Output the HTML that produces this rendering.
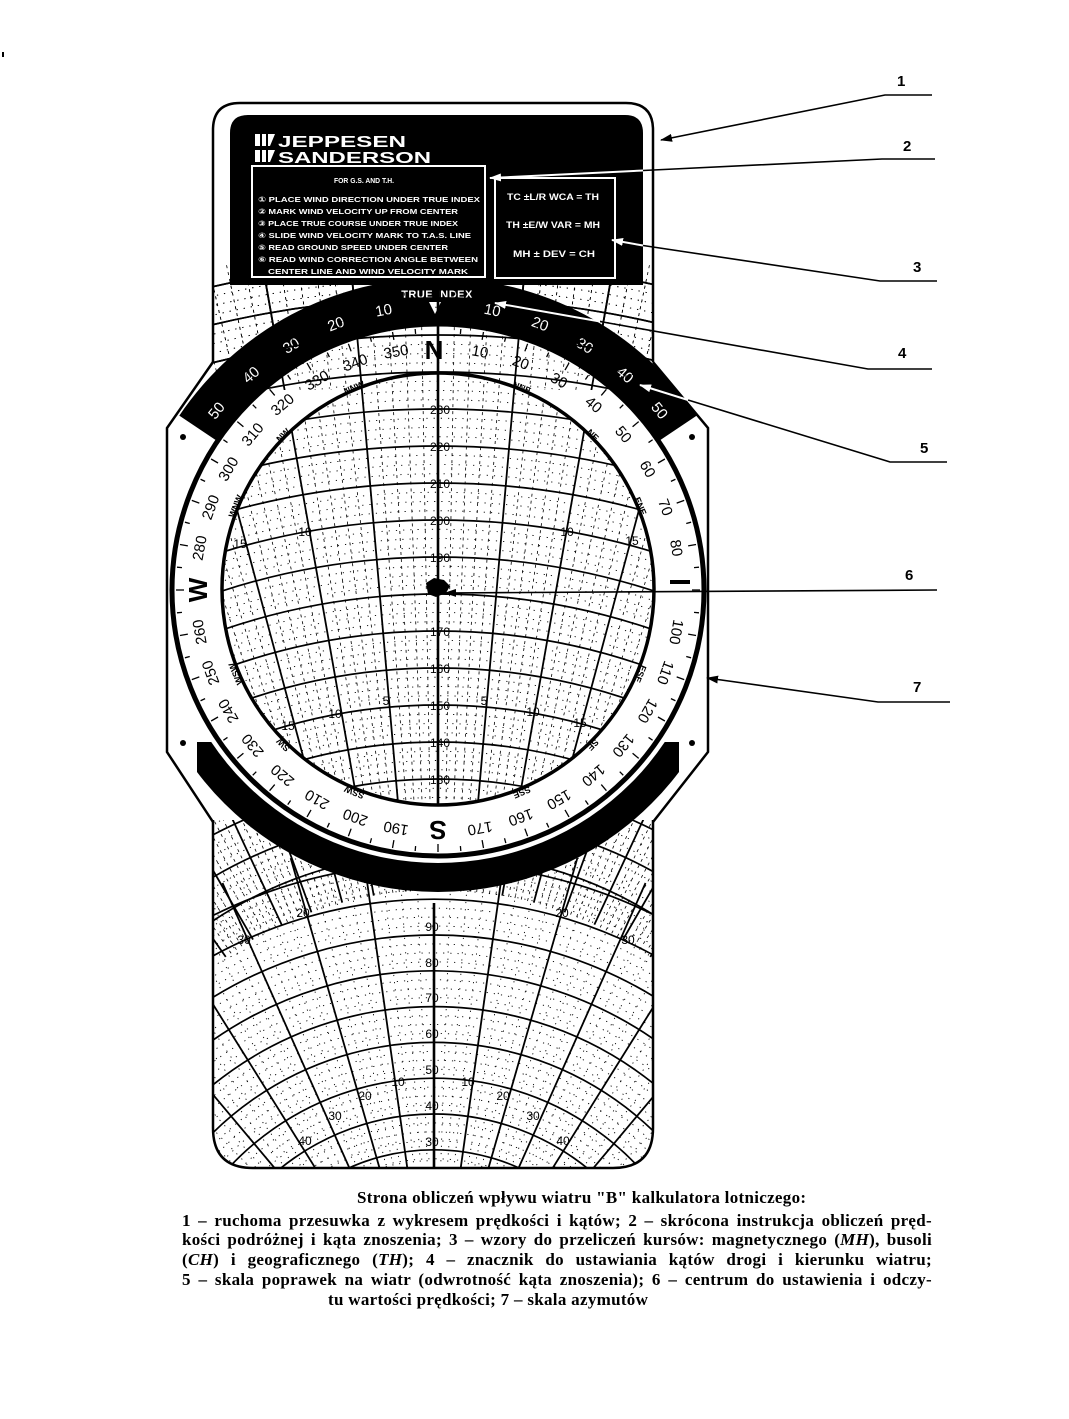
<!DOCTYPE html>
<html><head><meta charset="utf-8">
<style>
html,body{margin:0;padding:0;background:#fff;}
#wrap{position:relative;width:1069px;height:1419px;overflow:hidden;background:#fff;}
svg{position:absolute;left:0;top:0;}
.cap{position:absolute;left:182px;width:750px;font-family:"Liberation Serif",serif;font-weight:bold;font-size:17px;letter-spacing:0.3px;line-height:19px;color:#000;white-space:nowrap;}
.j{text-align:justify;text-align-last:justify;white-space:normal;}
</style></head><body><div id="wrap">
<svg id="s" width="1069" height="1419" viewBox="0 0 1069 1419" xmlns="http://www.w3.org/2000/svg" font-family="Liberation Sans, DejaVu Sans, sans-serif">
<defs>
<clipPath id="slideClip"><path d="M213,820 V130 Q213,103 240,103 H626 Q653,103 653,130 V1128 Q653,1168 613,1168 H253 Q213,1168 213,1128 Z"/></clipPath>
<clipPath id="lowRect"><rect x="200" y="820" width="470" height="360"/></clipPath>
<clipPath id="upClip"><circle cx="438" cy="589" r="216"/><rect x="213" y="280" width="440" height="110"/></clipPath>
<clipPath id="botBand"><rect x="197" y="742" width="482" height="170"/></clipPath>
<marker id="ab" markerUnits="userSpaceOnUse" markerWidth="12" markerHeight="8" refX="11" refY="4" orient="auto"><path d="M0,0 L12,4 L0,8 Z" fill="#000"/></marker>
<marker id="aw" markerUnits="userSpaceOnUse" markerWidth="12" markerHeight="8" refX="11" refY="4" orient="auto"><path d="M0,0 L12,4 L0,8 Z" fill="#fff"/></marker>
</defs>
<rect x="2" y="52" width="2" height="5" fill="#000"/>
<path d="M213,820 V130 Q213,103 240,103 H626 Q653,103 653,130 V1128 Q653,1168 613,1168 H253 Q213,1168 213,1128 Z" fill="#fff" stroke="#000" stroke-width="2.5"/>
<g clip-path="url(#slideClip)"><g id="upStrip"></g></g>
<g clip-path="url(#lowRect)"><g clip-path="url(#slideClip)"><g id="lowGrid"></g>
<g font-size="12" text-anchor="middle" fill="#000">
<text x="432" y="931">90</text><text x="432" y="967">80</text><text x="432" y="1002">70</text><text x="432" y="1038">60</text><text x="432" y="1074">50</text><text x="432" y="1110">40</text><text x="432" y="1146">30</text>
<text x="303" y="917">20</text><text x="562" y="917">20</text><text x="244" y="944">30</text><text x="628" y="944">30</text>
<text x="398" y="1086">10</text><text x="468" y="1086">10</text><text x="365" y="1100">20</text><text x="503" y="1100">20</text><text x="335" y="1120">30</text><text x="533" y="1120">30</text><text x="305" y="1145">40</text><text x="563" y="1145">40</text>
</g></g></g>
<path d="M230,285 V133 Q230,115 248,115 H625 Q643,115 643,133 V285 Z" fill="#000"/>
<g fill="#fff"><rect x="255" y="134" width="5" height="12"/><rect x="262" y="134" width="4" height="12"/><path d="M268,134 h7 l-5,12 h-2 Z"/><rect x="255" y="150" width="5" height="12"/><rect x="262" y="150" width="4" height="12"/><path d="M268,150 h7 l-5,12 h-2 Z"/></g>
<text x="278" y="147" fill="#fff" font-weight="bold" font-size="16" textLength="128" lengthAdjust="spacingAndGlyphs">JEPPESEN</text>
<text x="278" y="163" fill="#fff" font-weight="bold" font-size="16" textLength="153" lengthAdjust="spacingAndGlyphs">SANDERSON</text>
<rect x="252" y="166" width="233" height="111" fill="none" stroke="#fff" stroke-width="2"/>
<rect x="495" y="178" width="120" height="100" fill="none" stroke="#fff" stroke-width="2"/>
<g fill="#fff" font-weight="bold" font-size="7.5" font-family="Liberation Sans, DejaVu Sans, sans-serif">
<text x="334" y="183" textLength="60" lengthAdjust="spacingAndGlyphs">FOR G.S. AND T.H.</text>
<text x="258" y="202" textLength="222" lengthAdjust="spacingAndGlyphs">① PLACE WIND DIRECTION UNDER TRUE INDEX</text>
<text x="258" y="214" textLength="200" lengthAdjust="spacingAndGlyphs">② MARK WIND VELOCITY UP FROM CENTER</text>
<text x="258" y="226" textLength="200" lengthAdjust="spacingAndGlyphs">③ PLACE TRUE COURSE UNDER TRUE INDEX</text>
<text x="258" y="238" textLength="213" lengthAdjust="spacingAndGlyphs">④ SLIDE WIND VELOCITY MARK TO T.A.S. LINE</text>
<text x="258" y="250" textLength="190" lengthAdjust="spacingAndGlyphs">⑤ READ GROUND SPEED UNDER CENTER</text>
<text x="258" y="262" textLength="220" lengthAdjust="spacingAndGlyphs">⑥ READ WIND CORRECTION ANGLE BETWEEN</text>
<text x="268" y="274" textLength="200" lengthAdjust="spacingAndGlyphs">CENTER LINE AND WIND VELOCITY MARK</text>
<text x="507" y="200" font-size="9" textLength="92" lengthAdjust="spacingAndGlyphs">TC ±L/R WCA = TH</text>
<text x="506" y="228" font-size="9" textLength="94" lengthAdjust="spacingAndGlyphs">TH ±E/W VAR = MH</text>
<text x="513" y="257" font-size="9" textLength="82" lengthAdjust="spacingAndGlyphs">MH ± DEV = CH</text>
</g>
<polygon points="213,362 167,428 167,752 213,820 663,820 708,752 708,428 663,362" fill="#fff"/>
<polyline points="213,362 167,428 167,752 213,822" fill="none" stroke="#000" stroke-width="2.5"/>
<polyline points="653,362 708,428 708,752 653,822" fill="none" stroke="#000" stroke-width="2.5"/>
<g fill="#000"><circle cx="183" cy="437" r="3"/><circle cx="183" cy="743" r="3"/><circle cx="692" cy="437" r="3"/><circle cx="692" cy="743" r="3"/></g>
<path d="M179.3,415.6 A312,312 0 0,1 696.7,415.6 L658.5,441.3 A266,266 0 0,0 217.5,441.3 Z" fill="#000"/>
<g clip-path="url(#botBand)"><circle cx="438" cy="590" r="302" fill="#000"/><circle cx="438" cy="590" r="273" fill="#fff"/></g>
<g fill="#fff" font-size="15" text-anchor="middle">
<text x="438" y="310" transform="rotate(-11 438 590)">10</text><text x="438" y="310" transform="rotate(-21 438 590)">20</text><text x="438" y="310" transform="rotate(-31 438 590)">30</text><text x="438" y="310" transform="rotate(-41 438 590)">40</text><text x="438" y="310" transform="rotate(-51 438 590)">50</text>
<text x="438" y="310" transform="rotate(11 438 590)">10</text><text x="438" y="310" transform="rotate(21 438 590)">20</text><text x="438" y="310" transform="rotate(31 438 590)">30</text><text x="438" y="310" transform="rotate(41 438 590)">40</text><text x="438" y="310" transform="rotate(51 438 590)">50</text>
<text x="437" y="298" font-size="11" font-weight="bold" letter-spacing="0.5">TRUE INDEX</text>
</g>
<polygon points="429,302 441,302 435,314" fill="#fff"/>
<circle cx="438" cy="590" r="266" fill="#fff" stroke="#000" stroke-width="5"/>
<g id="ticks"></g>
<g clip-path="url(#upClip)"><g id="upGrid"></g></g>
<circle cx="438" cy="589" r="216" fill="none" stroke="#000" stroke-width="3.5"/>
<g font-size="12" text-anchor="middle" fill="#000">
<text x="440" y="414">230</text><text x="440" y="451">220</text><text x="440" y="488">210</text><text x="440" y="525">200</text><text x="440" y="562">190</text><text x="440" y="636">170</text><text x="440" y="673">160</text><text x="440" y="710">150</text><text x="440" y="747">140</text><text x="440" y="784">130</text>
<text x="305" y="536">10</text><text x="567" y="536">10</text><text x="240" y="548">15</text><text x="632" y="545">15</text>
<text x="335" y="718">10</text><text x="533" y="716">10</text><text x="288" y="730">15</text><text x="580" y="727">15</text>
<text x="386" y="705">5</text><text x="484" y="705">5</text>
</g>
<path d="M426,583 l8,-5 l10,2 l6,6 l-4,7 l-10,4 l-8,-3 Z" fill="#000"/>
<g font-size="15" text-anchor="middle" fill="#000">
<text x="438" y="353" transform="rotate(10 438 590)">10</text><text x="438" y="353" transform="rotate(20 438 590)">20</text><text x="438" y="353" transform="rotate(30 438 590)">30</text><text x="438" y="353" transform="rotate(40 438 590)">40</text><text x="438" y="353" transform="rotate(50 438 590)">50</text><text x="438" y="353" transform="rotate(60 438 590)">60</text><text x="438" y="353" transform="rotate(70 438 590)">70</text><text x="438" y="353" transform="rotate(80 438 590)">80</text>
<text x="438" y="353" transform="rotate(100 438 590)">100</text><text x="438" y="353" transform="rotate(110 438 590)">110</text><text x="438" y="353" transform="rotate(120 438 590)">120</text><text x="438" y="353" transform="rotate(130 438 590)">130</text><text x="438" y="353" transform="rotate(140 438 590)">140</text><text x="438" y="353" transform="rotate(150 438 590)">150</text><text x="438" y="353" transform="rotate(160 438 590)">160</text><text x="438" y="353" transform="rotate(170 438 590)">170</text>
<text x="438" y="353" transform="rotate(190 438 590)">190</text><text x="438" y="353" transform="rotate(200 438 590)">200</text><text x="438" y="353" transform="rotate(210 438 590)">210</text><text x="438" y="353" transform="rotate(220 438 590)">220</text><text x="438" y="353" transform="rotate(230 438 590)">230</text><text x="438" y="353" transform="rotate(240 438 590)">240</text><text x="438" y="353" transform="rotate(250 438 590)">250</text><text x="438" y="353" transform="rotate(260 438 590)">260</text>
<text x="438" y="353" transform="rotate(280 438 590)">280</text><text x="438" y="353" transform="rotate(290 438 590)">290</text><text x="438" y="353" transform="rotate(300 438 590)">300</text><text x="438" y="353" transform="rotate(310 438 590)">310</text><text x="438" y="353" transform="rotate(320 438 590)">320</text><text x="438" y="353" transform="rotate(330 438 590)">330</text><text x="438" y="353" transform="rotate(340 438 590)">340</text><text x="438" y="353" transform="rotate(350 438 590)">350</text>
</g>
<g font-size="26" font-weight="bold" text-anchor="middle" fill="#000">
<text x="434" y="359">N</text>
<text x="438" y="359" transform="rotate(180 438 590)">S</text>
<text x="438" y="359" transform="rotate(270 438 590)">W</text>
</g>
<rect x="670" y="580" width="20" height="4" fill="#000"/>
<g font-size="9" font-weight="bold" text-anchor="middle" fill="#000">
<text x="438" y="374" transform="rotate(22.5 438 590)">NNE</text><text x="438" y="374" transform="rotate(45 438 590)">NE</text><text x="438" y="374" transform="rotate(67.5 438 590)">ENE</text><text x="438" y="374" transform="rotate(112.5 438 590)">ESE</text><text x="438" y="374" transform="rotate(135 438 590)">SE</text><text x="438" y="374" transform="rotate(157.5 438 590)">SSE</text><text x="438" y="374" transform="rotate(202.5 438 590)">SSW</text><text x="438" y="374" transform="rotate(225 438 590)">SW</text><text x="438" y="374" transform="rotate(247.5 438 590)">WSW</text><text x="438" y="374" transform="rotate(292.5 438 590)">WNW</text><text x="438" y="374" transform="rotate(315 438 590)">NW</text><text x="438" y="374" transform="rotate(337.5 438 590)">NNW</text>
</g>
<g fill="none" stroke-width="1.6">
<path d="M932,95 L885,95 L661,140" stroke="#000" marker-end="url(#ab)"/>
<path d="M935,159 L882,159 L643,170.5" stroke="#000"/>
<path d="M643,170.5 L490,178" stroke="#fff" stroke-width="2" marker-end="url(#aw)"/>
<path d="M937,281 L880,281 L643,245.5" stroke="#000"/>
<path d="M643,245.5 L612,240" stroke="#fff" stroke-width="2" marker-end="url(#aw)"/>
<path d="M932,369 L868,369 L600,321.5" stroke="#000"/>
<path d="M600,321.5 L495,303" stroke="#fff" stroke-width="2" marker-end="url(#aw)"/>
<path d="M947,462 L890,462 L688,400" stroke="#000"/>
<path d="M688,400 L640,385" stroke="#fff" stroke-width="2" marker-end="url(#aw)"/>
<path d="M937,590 L445,593" stroke="#000" marker-end="url(#ab)"/>
<path d="M950,702 L878,702 L707,678" stroke="#000" marker-end="url(#ab)"/>
</g>
<g font-size="15" font-weight="bold" fill="#000">
<text x="897" y="86">1</text><text x="903" y="151">2</text><text x="913" y="272">3</text><text x="898" y="358">4</text><text x="920" y="453">5</text><text x="905" y="580">6</text><text x="913" y="692">7</text>
</g>
</svg>
<div class="cap" style="top:1188px;left:357px;width:470px;">Strona obliczeń wpływu wiatru "B" kalkulatora lotniczego:</div>
<div class="cap j" style="top:1211px;">1 – ruchoma przesuwka z wykresem prędkości i kątów; 2 – skrócona instrukcja obliczeń pręd-</div>
<div class="cap j" style="top:1230px;">kości podróżnej i kąta znoszenia; 3 – wzory do przeliczeń kursów: magnetycznego (<i>MH</i>), busoli</div>
<div class="cap j" style="top:1250px;">(<i>CH</i>) i geograficznego (<i>TH</i>); 4 – znacznik do ustawiania kątów drogi i kierunku wiatru;</div>
<div class="cap j" style="top:1270px;">5 – skala poprawek na wiatr (odwrotność kąta znoszenia); 6 – centrum do ustawienia i odczy-</div>
<div class="cap" style="top:1290px;left:328px;">tu wartości prędkości; 7 – skala azymutów</div>
</div>
<script>
(function(){
var NS="http://www.w3.org/2000/svg";
function el(g,tag,a){var e=document.createElementNS(NS,tag);for(var k in a)e.setAttribute(k,a[k]);g.appendChild(e);return e;}
function arc(g,cx,cy,r,a0,a1,w,dash){
 var r0=a0*Math.PI/180,r1=a1*Math.PI/180;
 var x0=cx+r*Math.sin(r0),y0=cy-r*Math.cos(r0),x1=cx+r*Math.sin(r1),y1=cy-r*Math.cos(r1);
 var a={d:"M"+x0+","+y0+" A"+r+","+r+" 0 0,1 "+x1+","+y1,fill:"none",stroke:"#000","stroke-width":w};
 if(dash)a["stroke-dasharray"]=dash; el(g,"path",a);}
function ray(g,cx,cy,deg,r0,r1,w,dash){
 var t=deg*Math.PI/180;var a={x1:cx+r0*Math.sin(t),y1:cy-r0*Math.cos(t),x2:cx+r1*Math.sin(t),y2:cy-r1*Math.cos(t),stroke:"#000","stroke-width":w};
 if(dash)a["stroke-dasharray"]=dash; el(g,"line",a);}
function upper(g){
 var cx=438,cy=1260,k=3.7;
 for(var v=110;v<=270;v+=2.5){ if(v%10==0)arc(g,cx,cy,k*v,-40,40,1.7); else arc(g,cx,cy,k*v,-40,40,0.9,"1.2 6"); }
 for(var d=-35;d<=35;d++){ if(d==0)continue; if(d%5==0)ray(g,cx,cy,d,k*100,k*275,1.8); else ray(g,cx,cy,d,k*100,k*275,0.8,"3 4"); }
 ray(g,cx,cy,0,k*100,k*275,2.6);
}
upper(document.getElementById("upGrid"));
upper(document.getElementById("upStrip"));
var lg=document.getElementById("lowGrid");
var cx=434,cy=1358;
function R(v){return 423-(90-v)*3.58;}
for(var v=20;v<=110;v+=2.5){ if(v%10==0)arc(lg,cx,cy,R(v),-70,70,1.7); else arc(lg,cx,cy,R(v),-70,70,0.9,"1.2 6"); }
for(var d=-70;d<=70;d+=2){ if(d==0)continue; if(d%8==0)ray(lg,cx,cy,d,60,520,1.8); else ray(lg,cx,cy,d,60,520,0.9,"1.2 6"); }
ray(lg,cx,cy,0,60,455,2.6);
var tg=document.getElementById("ticks");
for(var d=0;d<360;d+=5){ var L=(d%10==0)?8:5; ray(tg,438,590,d,262-L,262,1.3); }
})();
</script>
</body></html>
